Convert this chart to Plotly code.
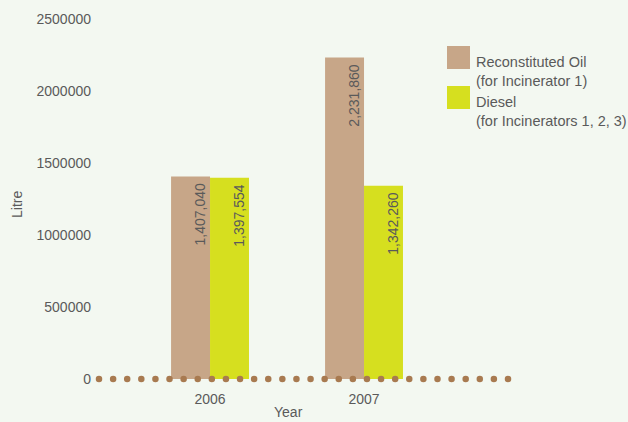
import numpy as np
import plotly.graph_objects as go

# Fuel consumption by year (litres)
years = ["2006", "2007"]
reconstituted_oil = [1407040, 2231860]
diesel = [1397554, 1342260]

series_names = ["Reconstituted Oil", "Diesel"]
series_notes = ["(for Incinerator 1)", "(for Incinerators 1, 2, 3)"]
y_ticks = [0, 500000, 1000000, 1500000, 2000000, 2500000]

OIL = "#c7a688"
DIESEL = "#d6df1f"
BG = "#f3f8f1"
TEXT = "#5a5a5a"
DOT = "#a87a50"
FONT = "Liberation Sans, Arial, sans-serif"

xpos = list(range(len(years)))

fig = go.Figure()
fig.add_trace(go.Bar(x=xpos, y=reconstituted_oil, name=series_names[0],
                     marker=dict(color=OIL, line=dict(width=0))))
fig.add_trace(go.Bar(x=xpos, y=diesel, name=series_names[1],
                     marker=dict(color=DIESEL, line=dict(width=0))))

# dotted baseline drawn as round markers along y = 0
dots_x = np.linspace(-0.721, 1.935, 30)
fig.add_trace(go.Scatter(x=dots_x, y=np.zeros_like(dots_x), mode="markers",
                         marker=dict(color=DOT, size=6.5, line=dict(width=0)),
                         hoverinfo="skip", cliponaxis=False))

annotations = []
# value labels, rotated, just below the top of each bar
for i in xpos:
    for vals, shift in ((reconstituted_oil, -10), (diesel, 29)):
        annotations.append(dict(
            x=i, y=vals[i], xref="x", yref="y", text=f"{vals[i]:,}",
            textangle=-90, showarrow=False, xanchor="center", yanchor="top",
            xshift=shift, yshift=-5, font=dict(family=FONT, size=14, color=TEXT)))

# axis titles
annotations.append(dict(x=17, y=205, xref="paper", yref="paper", text="Litre",
                        showarrow=False, textangle=-90,
                        xanchor="center", yanchor="middle",
                        font=dict(family=FONT, size=14, color=TEXT)))
annotations.append(dict(x=288, y=412, xref="paper", yref="paper", text="Year",
                        showarrow=False, xanchor="center", yanchor="middle",
                        font=dict(family=FONT, size=14, color=TEXT)))

shapes = []
# legend swatches and labels
for k, (col, name, note) in enumerate(zip([OIL, DIESEL], series_names, series_notes)):
    top = 46 + 40 * k
    shapes.append(dict(type="rect", xref="paper", yref="paper",
                       x0=447, x1=470, y0=top, y1=top + 23,
                       fillcolor=col, line=dict(width=0)))
    annotations.append(dict(x=474, y=top + 6, xref="paper", yref="paper",
                            text=name + "<br>" + note, showarrow=False,
                            xanchor="left", yanchor="top", align="left",
                            font=dict(family=FONT, size=14.5, color=TEXT)))

W, H = 628, 422
ml, mr, mt, mb = 95, 116, 19, 43
# convert pixel-based paper positions for annotations/shapes
for a in annotations:
    if a.get("xref") == "paper":
        a["x"] = (a["x"] - ml) / (W - ml - mr)
        a["y"] = 1 - (a["y"] - mt) / (H - mt - mb)
for s in shapes:
    s["x0"] = (s["x0"] - ml) / (W - ml - mr)
    s["x1"] = (s["x1"] - ml) / (W - ml - mr)
    y0, y1 = s["y0"], s["y1"]
    s["y0"] = 1 - (y1 - mt) / (H - mt - mb)
    s["y1"] = 1 - (y0 - mt) / (H - mt - mb)

fig.update_layout(
    width=W, height=H,
    margin=dict(l=ml, r=mr, t=mt, b=mb, autoexpand=False),
    paper_bgcolor=BG, plot_bgcolor=BG,
    barmode="group", bargap=0.494, bargroupgap=0,
    showlegend=False,
    font=dict(family=FONT, size=14, color=TEXT),
    xaxis=dict(range=[-0.747, 1.961], tickvals=xpos, ticktext=years,
               showgrid=False, zeroline=False, showline=False, ticks="",
               ticklabelstandoff=10,
               tickfont=dict(family=FONT, size=14, color=TEXT)),
    yaxis=dict(range=[0, 2500000], tickvals=y_ticks,
               ticktext=[str(v) for v in y_ticks],
               showgrid=False, zeroline=False, showline=False, ticks="",
               ticklabelstandoff=3,
               tickfont=dict(family=FONT, size=14, color=TEXT)),
    annotations=annotations, shapes=shapes,
)

fig.write_html("out.html")
